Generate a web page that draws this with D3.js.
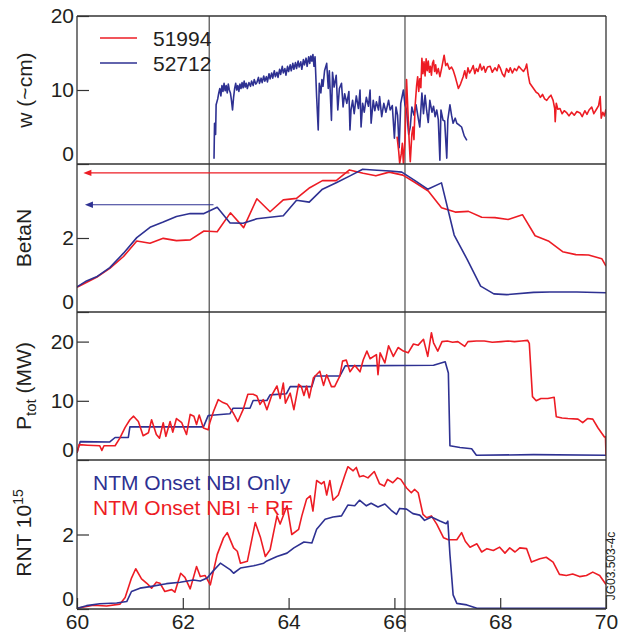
<!DOCTYPE html>
<html lang="en">
<head>
<meta charset="UTF-8">
<title>NTM onset comparison</title>
<script src="https://d3js.org/d3.v7.min.js"></script>
<style>
  body { margin: 0; background: #fff; }
  svg text { font-family: "Liberation Sans", Arial, Helvetica, sans-serif; fill: #231f20; }
</style>
</head>
<body>
<div id="chart"></div>
<script>
// shot numbers and colours
var shots = ["51994", "52712"];
var colors = { "51994": "#ed1c24", "52712": "#2e3192" };

// island width w (~cm), [time, value]
var w51994 = [[66.05,3.7],[66.08,1.8],[66.1,0.1],[66.13,1.4],[66.15,2.8],[66.17,0.1],[66.2,3.2],[66.23,11.4],[66.26,6.4],[66.28,3.0],[66.3,0.3],[66.33,4.0],[66.35,5.0],[66.37,3.3],[66.39,7.7],[66.42,10.6],[66.44,11.8],[66.46,9.8],[66.48,11.5],[66.5,10.3],[66.52,14.3],[66.54,12.2],[66.56,13.8],[66.58,11.9],[66.6,14.2],[66.62,12.6],[66.64,13.9],[66.66,12.4],[66.68,13.2],[66.7,12.0],[66.72,13.6],[66.74,14.0],[66.76,12.5],[66.78,13.4],[66.8,12.2],[66.83,12.9],[66.86,11.8],[66.9,13.2],[66.94,14.7],[66.97,13.3],[67.0,13.6],[67.04,12.8],[67.08,13.1],[67.11,12.7],[67.15,11.8],[67.18,11.0],[67.21,10.2],[67.25,10.8],[67.3,11.8],[67.33,12.6],[67.36,11.6],[67.39,13.0],[67.42,12.3],[67.46,12.8],[67.49,13.3],[67.52,12.2],[67.55,12.9],[67.58,12.5],[67.62,13.5],[67.65,12.7],[67.69,13.2],[67.72,12.4],[67.76,13.1],[67.81,13.2],[67.85,12.4],[67.9,13.0],[67.94,12.6],[67.97,13.4],[68.0,13.0],[68.04,12.2],[68.08,11.8],[68.12,12.9],[68.16,12.4],[68.19,13.0],[68.23,12.3],[68.27,12.9],[68.31,12.6],[68.35,13.2],[68.4,12.8],[68.44,12.5],[68.48,13.0],[68.5,13.5],[68.53,12.0],[68.56,10.9],[68.6,10.5],[68.64,10.1],[68.68,9.7],[68.72,9.5],[68.76,9.0],[68.8,9.4],[68.84,8.8],[68.88,8.6],[68.92,9.0],[68.96,9.3],[69.0,8.6],[69.03,7.5],[69.04,5.7],[69.06,8.2],[69.09,7.4],[69.13,7.5],[69.17,6.8],[69.21,7.2],[69.26,6.9],[69.3,6.5],[69.35,7.0],[69.4,6.6],[69.45,7.1],[69.51,6.9],[69.55,6.4],[69.6,7.2],[69.64,6.7],[69.68,7.3],[69.73,7.7],[69.77,6.8],[69.82,7.4],[69.86,7.9],[69.89,9.1],[69.91,6.2],[69.94,7.0],[69.97,6.5],[70.0,7.4]];

var w52712 = [[62.59,0.7],[62.6,5.5],[62.62,4.0],[62.63,8.0],[62.66,8.8],[62.68,9.6],[62.7,10.2],[62.72,9.2],[62.74,10.6],[62.76,9.8],[62.78,10.9],[62.8,9.9],[62.82,10.6],[62.84,9.6],[62.86,10.8],[62.88,10.0],[62.9,9.6],[62.92,8.6],[62.94,7.3],[62.96,9.0],[62.98,10.2],[63.0,10.9],[63.02,10.0],[63.04,10.6],[63.06,9.8],[63.08,10.8],[63.1,10.2],[63.12,11.0],[63.14,10.3],[63.16,11.2],[63.18,10.4],[63.2,10.9],[63.22,10.2],[63.25,11.0],[63.28,10.5],[63.3,11.2],[63.33,10.6],[63.35,11.4],[63.38,10.8],[63.4,11.0],[63.43,11.7],[63.45,10.9],[63.48,11.6],[63.5,11.0],[63.53,11.9],[63.55,11.2],[63.58,11.8],[63.6,11.1],[63.63,12.2],[63.65,11.5],[63.68,12.3],[63.7,11.6],[63.73,12.6],[63.75,11.8],[63.78,12.4],[63.8,11.7],[63.83,12.8],[63.85,12.1],[63.88,13.2],[63.9,12.3],[63.93,12.9],[63.95,12.0],[63.98,13.2],[64.0,12.5],[64.03,13.4],[64.05,12.6],[64.08,13.6],[64.1,12.8],[64.13,13.7],[64.15,12.9],[64.18,13.9],[64.2,13.1],[64.23,13.8],[64.25,12.8],[64.28,14.1],[64.3,13.4],[64.33,14.3],[64.35,13.2],[64.38,14.5],[64.4,13.6],[64.42,14.6],[64.44,13.9],[64.46,14.8],[64.48,13.2],[64.5,14.5],[64.53,9.1],[64.56,4.6],[64.58,10.9],[64.61,9.6],[64.63,11.4],[64.65,10.5],[64.68,12.6],[64.72,13.6],[64.75,10.2],[64.77,12.6],[64.81,5.9],[64.83,12.4],[64.86,10.4],[64.9,12.0],[64.93,7.3],[64.96,10.2],[65.0,10.9],[65.03,7.7],[65.06,9.5],[65.1,8.2],[65.14,9.8],[65.16,4.6],[65.18,7.3],[65.21,8.6],[65.24,6.8],[65.28,9.2],[65.32,7.5],[65.35,10.0],[65.37,5.0],[65.4,8.2],[65.43,7.0],[65.47,9.0],[65.51,7.8],[65.54,10.0],[65.56,5.5],[65.6,8.6],[65.63,7.2],[65.66,8.4],[65.7,7.3],[65.72,9.1],[65.76,6.4],[65.8,8.2],[65.84,7.0],[65.89,8.6],[65.92,7.3],[65.96,7.9],[66.0,3.5],[66.03,7.7],[66.06,6.6],[66.09,2.2],[66.12,8.2],[66.17,10.0],[66.2,8.0],[66.23,7.3],[66.27,4.0],[66.3,5.0],[66.33,7.7],[66.37,6.6],[66.41,8.0],[66.45,6.2],[66.48,5.0],[66.52,9.6],[66.55,6.8],[66.58,9.3],[66.61,7.2],[66.64,5.6],[66.67,8.6],[66.71,7.0],[66.74,7.8],[66.77,6.4],[66.8,7.3],[66.83,6.0],[66.86,0.5],[66.88,7.3],[66.92,5.9],[66.95,5.8],[66.99,0.8],[67.01,6.0],[67.05,8.0],[67.08,6.6],[67.11,5.5],[67.15,6.2],[67.18,5.5],[67.22,5.3],[67.27,5.0],[67.32,3.8],[67.37,3.2]];

// normalised beta
var beta51994 = [[60.0,0.67],[60.37,0.94],[60.62,1.18],[60.88,1.5],[61.13,1.92],[61.38,1.86],[61.63,1.99],[61.88,1.93],[62.14,1.95],[62.4,2.19],[62.65,2.17],[62.9,2.68],[63.15,2.28],[63.4,3.06],[63.65,2.71],[63.9,3.03],[64.15,3.07],[64.4,3.36],[64.64,3.55],[64.9,3.55],[65.15,3.84],[65.41,3.75],[65.65,3.68],[65.9,3.78],[66.16,3.7],[66.39,3.5],[66.64,3.27],[66.89,2.82],[67.15,2.7],[67.4,2.72],[67.65,2.56],[67.9,2.55],[68.15,2.5],[68.42,2.63],[68.66,2.06],[68.91,1.92],[69.18,1.63],[69.43,1.55],[69.67,1.54],[69.92,1.44],[70.0,1.24]];
var beta52712 = [[60.0,0.68],[60.18,0.84],[60.37,0.95],[60.62,1.2],[60.88,1.59],[61.13,2.01],[61.38,2.29],[61.63,2.43],[61.88,2.58],[62.14,2.66],[62.4,2.66],[62.65,2.83],[62.89,2.41],[63.14,2.4],[63.4,2.52],[63.65,2.56],[63.9,2.6],[64.15,3.02],[64.39,2.97],[64.64,3.32],[64.91,3.5],[65.16,3.68],[65.4,3.86],[65.67,3.83],[65.92,3.81],[66.14,3.78],[66.39,3.55],[66.63,3.32],[66.89,3.49],[67.13,2.08],[67.38,1.41],[67.63,0.7],[67.88,0.49],[68.12,0.47],[68.63,0.53],[68.94,0.54],[69.45,0.54],[70.0,0.52]];
// arrows: [from time, to time, level]
var arrow51994 = [65.15, 60.12, 3.76];
var arrow52712 = [62.58, 60.15, 2.9];

// total heating power (MW)
var ptot51994 = [[60.0,1.2],[60.04,2.6],[60.2,2.5],[60.43,2.4],[60.47,1.6],[60.51,2.4],[60.72,2.4],[60.81,3.7],[60.91,5.5],[61.0,6.8],[61.07,7.4],[61.16,6.5],[61.25,4.1],[61.35,4.6],[61.41,6.8],[61.5,4.3],[61.56,3.7],[61.63,6.3],[61.68,4.0],[61.76,6.5],[61.81,4.7],[61.88,7.0],[61.98,6.3],[62.07,4.3],[62.14,7.7],[62.21,7.4],[62.26,6.0],[62.31,7.6],[62.39,5.4],[62.48,5.1],[62.51,6.3],[62.58,8.2],[62.67,10.2],[62.76,9.7],[62.84,9.4],[62.95,8.0],[63.04,6.5],[63.14,8.5],[63.23,11.1],[63.33,11.1],[63.4,10.8],[63.46,9.4],[63.52,10.2],[63.59,8.5],[63.68,10.9],[63.78,12.5],[63.84,10.4],[63.9,13.0],[63.94,9.6],[64.03,11.3],[64.1,8.5],[64.19,12.8],[64.24,12.4],[64.29,10.9],[64.34,12.5],[64.39,10.5],[64.47,13.9],[64.59,15.0],[64.66,12.6],[64.72,14.4],[64.81,12.4],[64.87,12.4],[64.97,14.2],[65.02,16.7],[65.09,16.9],[65.16,14.9],[65.25,16.0],[65.35,14.9],[65.41,16.9],[65.48,18.4],[65.54,17.1],[65.66,17.8],[65.69,14.4],[65.73,18.1],[65.82,16.4],[65.89,19.3],[65.98,17.5],[66.07,19.0],[66.17,18.4],[66.26,18.1],[66.36,19.6],[66.45,19.4],[66.55,20.4],[66.63,17.5],[66.7,21.5],[66.74,19.8],[66.82,18.4],[66.9,20.0],[67.0,20.1],[67.1,19.9],[67.2,20.0],[67.33,19.2],[67.39,20.0],[67.55,20.1],[67.7,20.1],[67.85,19.9],[68.02,20.0],[68.15,20.1],[68.27,20.0],[68.4,20.1],[68.52,20.2],[68.55,19.7],[68.61,10.7],[68.68,10.0],[68.77,10.4],[68.9,10.4],[69.02,10.6],[69.06,7.3],[69.17,7.1],[69.28,7.0],[69.47,6.9],[69.56,6.3],[69.65,7.0],[69.75,6.9],[69.85,5.4],[69.97,3.9],[69.99,3.9],[70.0,0.8]];
var ptot52712 = [[60.0,1.2],[60.06,3.1],[60.62,3.05],[60.72,3.8],[60.97,3.8],[61.0,5.6],[62.39,5.6],[62.48,7.5],[62.6,7.6],[62.89,7.8],[62.95,8.75],[63.27,8.75],[63.33,10.05],[63.59,10.05],[63.65,11.0],[63.96,11.2],[64.03,12.4],[64.44,12.4],[64.5,14.2],[64.97,14.2],[65.07,15.9],[66.74,16.0],[66.96,16.6],[67.02,14.7],[67.05,2.4],[67.24,2.1],[67.46,1.9],[67.55,0.8],[68.63,0.9],[70.0,0.8]];

// RNT 10^15
var rnt51994 = [[60.0,0.02],[60.31,0.1],[60.56,0.08],[60.81,0.13],[60.91,0.31],[61.03,0.83],[61.11,1.08],[61.22,0.81],[61.32,0.69],[61.41,0.56],[61.5,0.72],[61.57,0.69],[61.66,0.47],[61.79,0.52],[61.85,0.45],[61.96,0.96],[62.04,0.85],[62.14,0.54],[62.26,1.14],[62.33,0.87],[62.42,0.9],[62.52,0.65],[62.65,1.46],[62.77,1.91],[62.84,2.05],[62.96,1.64],[63.03,1.55],[63.09,1.23],[63.22,1.28],[63.37,2.32],[63.47,1.91],[63.56,1.41],[63.65,1.59],[63.78,2.5],[63.84,2.28],[63.97,2.77],[64.06,2.0],[64.19,2.14],[64.25,2.5],[64.34,2.95],[64.41,3.04],[64.46,2.63],[64.53,3.45],[64.62,3.36],[64.67,3.42],[64.72,3.06],[64.78,3.45],[64.84,2.92],[64.94,3.06],[65.06,3.58],[65.12,3.82],[65.22,3.71],[65.28,3.8],[65.34,3.55],[65.41,3.58],[65.5,3.52],[65.62,3.69],[65.72,3.36],[65.81,3.3],[65.87,3.48],[65.97,3.39],[66.06,3.52],[66.12,3.48],[66.23,3.25],[66.32,3.12],[66.38,3.21],[66.45,3.12],[66.54,2.54],[66.61,2.45],[66.7,2.5],[66.8,2.28],[66.93,1.91],[67.02,1.86],[67.18,1.86],[67.27,2.05],[67.34,1.82],[67.43,1.66],[67.56,1.75],[67.65,1.53],[67.75,1.62],[67.87,1.57],[67.99,1.66],[68.09,1.5],[68.18,1.64],[68.28,1.53],[68.37,1.64],[68.5,1.62],[68.59,1.26],[68.75,1.35],[68.87,1.39],[69.0,1.26],[69.12,0.93],[69.25,0.9],[69.37,0.94],[69.5,0.87],[69.63,0.9],[69.75,0.99],[69.88,0.9],[70.0,0.66]];
var rnt52712 = [[60.0,0.02],[60.18,0.09],[60.43,0.14],[60.75,0.16],[60.94,0.2],[61.03,0.47],[61.19,0.56],[61.38,0.6],[61.69,0.68],[61.95,0.72],[62.2,0.78],[62.33,0.75],[62.46,0.83],[62.58,1.03],[62.71,1.23],[62.9,1.05],[62.96,0.96],[63.09,1.1],[63.34,1.16],[63.53,1.23],[63.59,1.29],[63.78,1.41],[63.97,1.5],[64.1,1.64],[64.29,1.8],[64.44,1.77],[64.53,2.14],[64.69,2.41],[64.84,2.47],[65.0,2.5],[65.12,2.79],[65.25,2.77],[65.34,2.92],[65.47,2.77],[65.56,2.84],[65.69,2.74],[65.82,2.82],[65.94,2.65],[66.04,2.54],[66.1,2.7],[66.23,2.68],[66.35,2.56],[66.48,2.52],[66.57,2.38],[66.7,2.47],[66.86,2.36],[66.98,2.29],[67.01,2.36],[67.05,1.46],[67.11,0.38],[67.18,0.15],[67.37,0.11],[67.56,0.02],[70.0,0.02]];

// axis text
var xTicks = [60, 62, 64, 66, 68, 70];
var markerTimes = [62.5, 66.2];
var legendNotes = ["NTM Onset NBI Only", "NTM Onset NBI + RF"];

var width = 618, height = 633;
var left = 77, right = 606;

var svg = d3.select("#chart").append("svg")
    .attr("width", width)
    .attr("height", height);

var x = d3.scaleLinear().domain([60, 70]).range([left, right]);

// panel layout
var panels = [
    { top: 16,  bottom: 164, max: 20, ticks: [0, 10, 20] },
    { top: 164, bottom: 312, max: 4,  ticks: [0, 2] },
    { top: 312, bottom: 460, max: 25, ticks: [0, 10, 20] },
    { top: 460, bottom: 609, max: 4,  ticks: [0, 2] }
];
panels.forEach(function(p, i) {
    p.y = d3.scaleLinear().domain([0, p.max]).range([p.bottom, p.top]);
    svg.append("clipPath").attr("id", "clip" + i)
        .append("rect").attr("x", left).attr("y", p.top - 2)
        .attr("width", right - left).attr("height", p.bottom - p.top + 2);
});

var series = [
    { panel: 0, data: w52712, shot: "52712" },
    { panel: 0, data: w51994, shot: "51994" },
    { panel: 1, data: beta51994, shot: "51994" },
    { panel: 1, data: beta52712, shot: "52712" },
    { panel: 2, data: ptot52712, shot: "52712" },
    { panel: 2, data: ptot51994, shot: "51994" },
    { panel: 3, data: rnt51994, shot: "51994" },
    { panel: 3, data: rnt52712, shot: "52712" }
];

// vertical markers
markerTimes.forEach(function(t, i) {
    svg.append("line")
        .attr("x1", x(t)).attr("x2", x(t))
        .attr("y1", 16).attr("y2", i == 1 ? 632 : 609)
        .attr("stroke", "#666").attr("stroke-width", 1.4);
});

// data lines
series.forEach(function(s) {
    var p = panels[s.panel];
    var line = d3.line().x(function(d) { return x(d[0]); }).y(function(d) { return p.y(d[1]); });
    svg.append("path")
        .datum(s.data)
        .attr("clip-path", "url(#clip" + s.panel + ")")
        .attr("fill", "none")
        .attr("stroke", colors[s.shot])
        .attr("stroke-width", 1.6)
        .attr("stroke-linejoin", "round")
        .attr("d", line);
});

// arrows in BetaN panel
[[arrow51994, "51994"], [arrow52712, "52712"]].forEach(function(a) {
    var yb = panels[1].y;
    var ay = yb(a[0][2]), x1 = x(a[0][0]), x2 = x(a[0][1]);
    svg.append("line")
        .attr("x1", x1).attr("x2", x2 + 6)
        .attr("y1", ay).attr("y2", ay)
        .attr("stroke", colors[a[1]]).attr("stroke-width", 1.1);
    svg.append("path")
        .attr("d", "M" + x2 + "," + ay + "l8,-3.2l0,6.4z")
        .attr("fill", colors[a[1]]);
});

// frame
var frame = svg.append("g").attr("stroke", "#333").attr("stroke-width", 1.3);
frame.append("line").attr("x1", left).attr("x2", left).attr("y1", 16).attr("y2", 609);
frame.append("line").attr("x1", right).attr("x2", right).attr("y1", 16).attr("y2", 609);
[16, 164, 312, 460, 609].forEach(function(yy) {
    frame.append("line").attr("x1", left).attr("x2", right).attr("y1", yy).attr("y2", yy);
});

// y axes
panels.forEach(function(p) {
    var g = svg.append("g")
        .attr("transform", "translate(" + left + ",0)")
        .call(d3.axisLeft(p.y).tickValues(p.ticks).tickFormat(d3.format("d"))
            .tickSizeInner(-12).tickSizeOuter(0).tickPadding(3));
    g.select(".domain").remove();
    g.selectAll(".tick line").attr("stroke", "#333").attr("stroke-width", 1.2);
    g.selectAll(".tick text")
        .attr("font-size", 21)
        .attr("fill", "#231f20")
        .attr("dy", function(d) { return d === 0 ? "-0.17em" : "0.32em"; });
});

// x axis
var xg = svg.append("g")
    .attr("transform", "translate(0,609)")
    .call(d3.axisBottom(x).tickValues(xTicks).tickFormat(d3.format("d")).tickSizeInner(-11).tickSizeOuter(0).tickPadding(5));
xg.select(".domain").remove();
xg.selectAll(".tick line").attr("stroke", "#333").attr("stroke-width", 1.2);
xg.selectAll(".tick text").attr("font-size", 21).attr("fill", "#231f20");

// y titles
function yTitle(cx, cy) {
    return svg.append("text")
        .attr("transform", "translate(" + cx + "," + cy + ") rotate(-90)")
        .attr("text-anchor", "middle")
        .attr("font-size", 21);
}
yTitle(32, 90).text("w (~cm)");
yTitle(31, 238).text("BetaN");
var pt = yTitle(31, 386);
pt.append("tspan").text("P");
pt.append("tspan").attr("font-size", 15).attr("dy", 5).text("tot");
pt.append("tspan").attr("dy", -5).text(" (MW)");
var rn = yTitle(31, 533);
rn.append("tspan").text("RNT 10");
rn.append("tspan").attr("font-size", 14).attr("dy", -8).text("15");

// legend
shots.forEach(function(s, i) {
    var ly = 38 + i * 25;
    svg.append("line")
        .attr("x1", 100).attr("x2", 137).attr("y1", ly).attr("y2", ly)
        .attr("stroke", colors[s]).attr("stroke-width", 1.6);
    svg.append("text").attr("x", 153).attr("y", ly + 8).attr("font-size", 21).text(s);
});

// notes in last panel
svg.append("text").attr("x", 93).attr("y", 490).attr("font-size", 21)
    .style("fill", colors["52712"]).text(legendNotes[0]);
svg.append("text").attr("x", 93).attr("y", 515).attr("font-size", 21)
    .style("fill", colors["51994"]).text(legendNotes[1]);

// figure id
svg.append("text")
    .attr("transform", "translate(615,566) rotate(-90)")
    .attr("text-anchor", "middle")
    .attr("font-size", 12)
    .text("JG03.503-4c");
</script>
</body>
</html>
